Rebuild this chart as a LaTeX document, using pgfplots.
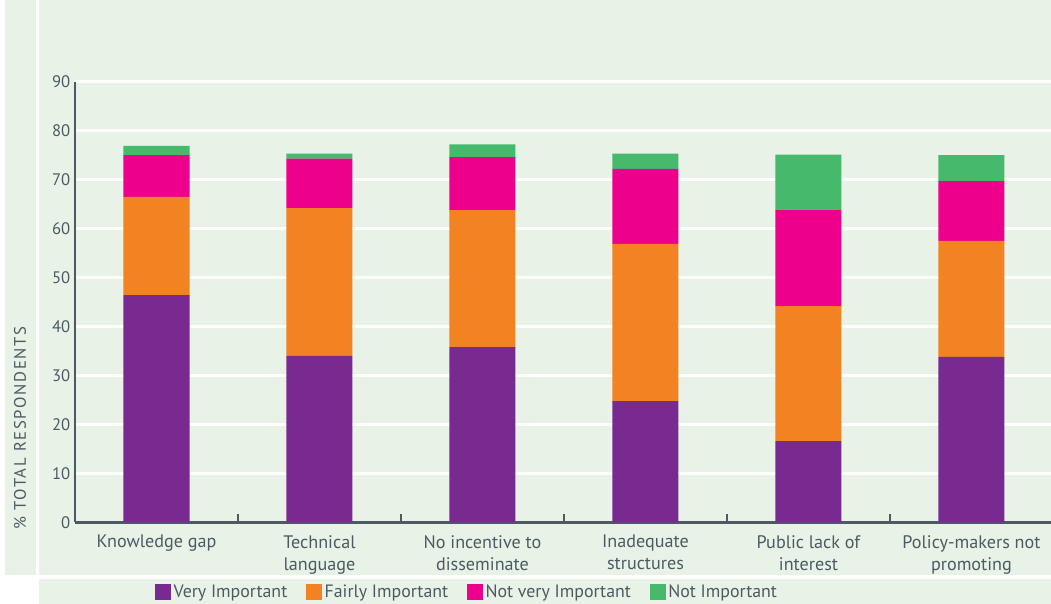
\documentclass[border=0pt]{standalone}
\usepackage{fontspec}
\setmainfont{PT Sans}
\usepackage{pgfplots}
\pgfplotsset{compat=1.18}
\definecolor{bg}{HTML}{E8F2E6}
\definecolor{txt}{HTML}{4B5B64}
\definecolor{cVI}{HTML}{782A90}
\definecolor{cFI}{HTML}{F38322}
\definecolor{cNVI}{HTML}{EC008C}
\definecolor{cNI}{HTML}{46B96C}
\begin{document}
\begin{tikzpicture}
\useasboundingbox (0,0) rectangle (788.25pt,453pt);
\fill[white] (0,0) rectangle (788.25pt,453pt);
\fill[bg] (3.75pt,21.75pt) rectangle (27pt,453pt);
\fill[bg] (29.25pt,21.75pt) rectangle (788.25pt,453pt);
\fill[bg] (29.25pt,0pt) rectangle (788.25pt,18.75pt);
\begin{axis}[
  at={(56.25pt,61.125pt)}, anchor=south west,
  scale only axis, width=732pt, height=330.6pt,
  ybar stacked, bar width=0.405,
  xmin=-0.5, xmax=5.488, ymin=0, ymax=90,
  axis x line*=bottom, axis y line*=left,
  axis line style={txt, line width=1.8pt, -},
  ytick={0,10,...,90},
  ymajorgrids, major grid style={white, line width=2.2pt},
  xtick={0,1,2,3,4,5},
  xticklabels={Knowledge gap, Technical\\language, No incentive to\\disseminate, Inadequate\\structures, Public lack of\\interest, Policy-makers not\\promoting},
  major tick length=0pt,
  extra x ticks={0.5,1.5,2.5,3.5,4.5},
  extra x tick labels={},
  extra x tick style={major tick length=6pt, tick align=inside, xmajorgrids=false, tick style={txt, line width=1.5pt}},
  /pgf/number format/assume math mode=true,
  x tick label style={align=center, text=txt, font=\fontsize{13.6}{16.5}\selectfont, yshift=-6pt},
  y tick label style={text=txt, font=\fontsize{12.5}{14}\selectfont},
  legend columns=4,
  legend style={at={(0.402,-0.158)}, anchor=center, draw=none, fill=none,
    font=\fontsize{13.4}{15}\selectfont, text=txt, inner sep=1pt,
    /tikz/every even column/.append style={column sep=12pt}},
  legend image code/.code={\fill[#1] (0pt,-6pt) rectangle (12pt,6pt);},
]
\addplot[fill=cVI, draw=none] coordinates {(0,46.4) (1,34.0) (2,35.8) (3,24.8) (4,16.6) (5,33.8)};
\addplot[fill=cFI, draw=none] coordinates {(0,20.1) (1,30.2) (2,28.0) (3,32.1) (4,27.6) (5,23.7)};
\addplot[fill=cNVI, draw=none] coordinates {(0,8.5) (1,10.1) (2,10.8) (3,15.3) (4,19.6) (5,12.2)};
\addplot[fill=cNI, draw=none] coordinates {(0,1.9) (1,1.0) (2,2.6) (3,3.1) (4,11.3) (5,5.3)};
\legend{Very Important, Fairly Important, Not very Important, Not Important}
\end{axis}
\node[rotate=90, text=txt, font=\fontsize{12.5}{14}\selectfont\addfontfeatures{LetterSpace=10}] at (15pt,132pt) {\% TOTAL RESPONDENTS};
\end{tikzpicture}
\end{document}
